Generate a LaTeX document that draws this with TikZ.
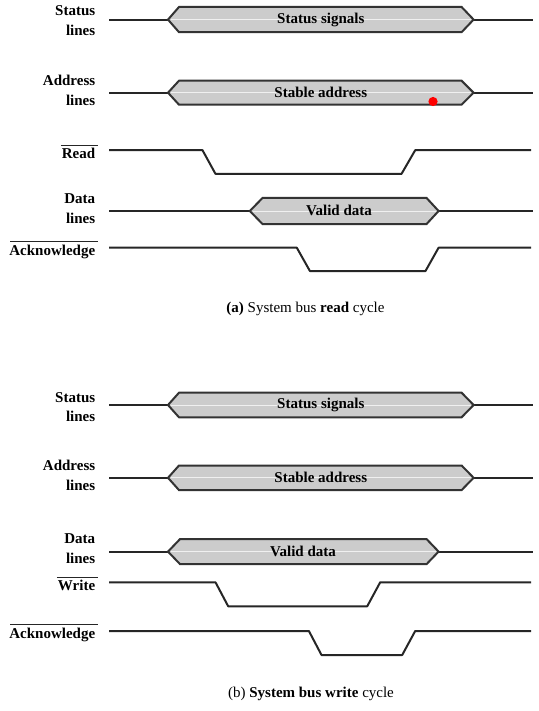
\documentclass[tikz,border=0pt]{standalone}
\usepackage{fontspec}
\setmainfont{Liberation Serif}
\begin{document}
\begin{tikzpicture}[x=1pt,y=-1pt,
  sig/.style={line width=2pt,draw=black!85,line join=round},
  busbox/.style={line width=2pt,draw=black!80,fill=black!20,line join=miter},
  midline/.style={line width=0.9pt,draw=black!6},
  lab/.style={font=\fontsize{15}{19.5}\selectfont\bfseries,align=right,anchor=east,inner sep=0pt},
  bustext/.style={font=\fontsize{15}{18}\selectfont\bfseries,inner sep=0pt},
  caption/.style={font=\fontsize{15}{18}\selectfont,inner sep=0pt},
  ovl/.style={line width=0.9pt,draw=black!85}]
\useasboundingbox (0,0) rectangle (538,711);
\fill[white] (0,0) rectangle (538,711);
% bus macro: y, left point, left corner, right corner, right point, half height
\newcommand\mybus[6]{%
  \draw[sig] (109,#1) -- (#2,#1);
  \draw[sig] (#5,#1) -- (533,#1);
  \draw[busbox] (#2,#1) -- (#3,#1-#6) -- (#4,#1-#6) -- (#5,#1) -- (#4,#1+#6) -- (#3,#1+#6) -- cycle;
  \draw[midline] (#2+3,#1) -- (#5-3,#1);
}
%================ (a) =================
\mybus{19.6}{168}{179}{461.6}{473.6}{12.6}
\node[bustext] (sa) at (320.8,19.6) {Status signals};
\node[lab] (lsa) at (95.4,20.5) {Status\\lines};

\mybus{92.7}{168}{179}{461.6}{473.6}{12}
\node[bustext] (aa) at (320.8,92.2) {Stable address};
\node[lab] (laa) at (95.4,90.5) {Address\\lines};
\fill[red] (433,101.5) circle (4.6);

\draw[sig] (109,150.2) -- (202.5,150.2) -- (215.5,173.9) -- (401.5,173.9) -- (415.2,150.2) -- (531,150.2);
\node[lab] (lra) at (95.4,153.6) {Read};
\draw[ovl] ([xshift=-0.8pt,yshift=3pt]lra.north west) -- ([xshift=2.4pt,yshift=3pt]lra.north east);

\mybus{211}{249.8}{262.5}{426.6}{438.6}{13}
\node[bustext] (da) at (339,210.5) {Valid data};
\node[lab] (lda) at (95.4,208.5) {Data\\lines};

\draw[sig] (109,247.7) -- (296.8,247.7) -- (309.9,271) -- (425.5,271) -- (438.6,247.7) -- (531,247.7);
\node[lab] (lka) at (95.4,251.5) {Acknowledge};
\draw[ovl] ([xshift=1.3pt,yshift=3pt]lka.north west) -- ([xshift=2.4pt,yshift=3pt]lka.north east);

\node[caption] (capa) at (305.5,309.4) {\textbf{(a)} System bus \textbf{read} cycle};

%================ (b) =================
\mybus{405}{168}{179}{461.6}{473.6}{12.3}
\node[bustext] (sb) at (320.8,404.5) {Status signals};
\node[lab] (lsb) at (95.4,407) {Status\\lines};

\mybus{477.8}{168}{179}{461.6}{473.6}{12.3}
\node[bustext] (ab) at (320.8,477.3) {Stable address};
\node[lab] (lab) at (95.4,475.5) {Address\\lines};

\mybus{551.6}{168}{180}{426.6}{438.6}{12.5}
\node[bustext] (db) at (303,551) {Valid data};
\node[lab] (ldb) at (95.4,548.5) {Data\\lines};

\draw[sig] (109,582.3) -- (215.5,582.3) -- (228.2,606.3) -- (367.2,606.3) -- (380.2,582.3) -- (531,582.3);
\node[lab] (lwb) at (95.4,585.7) {Write};
\draw[ovl] ([xshift=-0.8pt,yshift=3pt]lwb.north west) -- ([xshift=2.4pt,yshift=3pt]lwb.north east);

\draw[sig] (109,631) -- (308.9,631) -- (321.5,655) -- (402.2,655) -- (415.2,631) -- (531,631);
\node[lab] (lkb) at (95.4,634.8) {Acknowledge};
\draw[ovl] ([xshift=1.3pt,yshift=3pt]lkb.north west) -- ([xshift=2.4pt,yshift=3pt]lkb.north east);

\node[caption] (capb) at (311,693.8) {(b) \textbf{System bus write} cycle};
\end{tikzpicture}
\end{document}
